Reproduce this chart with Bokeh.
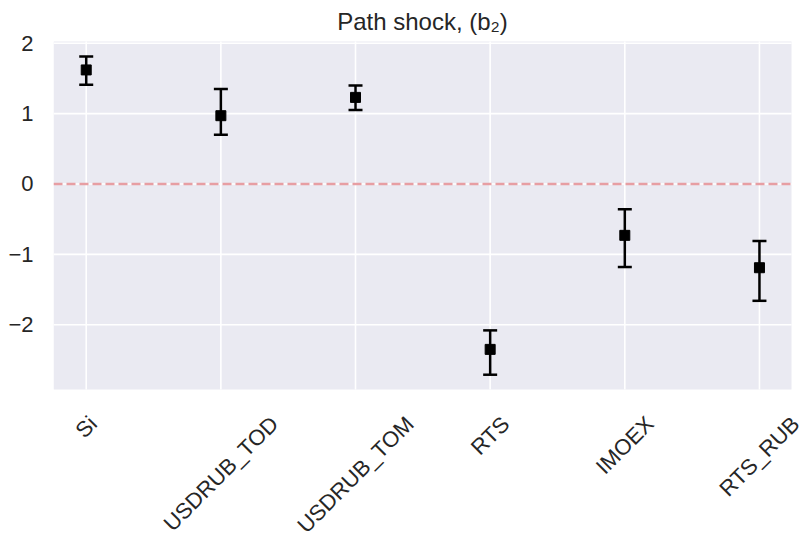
import math
from bokeh.plotting import figure
from bokeh.models import (ColumnDataSource, Whisker, TeeHead, FixedTicker,
                          Range1d, Label)
from bokeh.embed import file_html
from bokeh.resources import INLINE

# ---- data ----
names = ["Si", "USDRUB_TOD", "USDRUB_TOM", "RTS", "IMOEX", "RTS_RUB"]
estimate = [1.62, 0.97, 1.23, -2.35, -0.73, -1.19]
upper = [1.81, 1.35, 1.40, -2.08, -0.36, -0.81]
lower = [1.41, 0.70, 1.05, -2.71, -1.18, -1.66]
y_ticks = [-2, -1, 0, 1, 2]
y_tick_labels = {-2: "\u22122", -1: "\u22121", 0: "0", 1: "1", 2: "2"}
title_text = "Path shock, (b\u2082)"

# ---- layout ----
W, H = 800, 538
B_LEFT, B_TOP = 53, 41
AREA_W, AREA_H = 738, 348          # size of the grey plotting area in px
FONT = "Liberation Sans"
TXT = "#262626"
BG = "#EAEAF2"
TICK_PX = 22
TITLE_PX = 24
XMIN, XMAX = -0.243, 5.238         # grey area extent (data units)
YMIN, YMAX = -2.92, 2.024

# the frame spans the whole canvas right of the y labels, so that the title and
# the rotated category labels (drawn inside it) are not clipped away
px_x = AREA_W / (XMAX - XMIN)
px_y = AREA_H / (YMAX - YMIN)
frame_w = W - B_LEFT
X_END = XMIN + frame_w / px_x
Y_LOW = YMAX - (H - B_TOP) / px_y
Y_TOP = YMAX + B_TOP / px_y

xs = list(range(len(names)))
src = ColumnDataSource(dict(x=xs, est=estimate, upper=upper, lower=lower))

p = figure(width=W, height=H, output_backend="svg", toolbar_location=None,
           x_range=Range1d(XMIN, X_END), y_range=Range1d(Y_LOW, Y_TOP),
           min_border_left=B_LEFT, min_border_right=0,
           min_border_top=0, min_border_bottom=0,
           x_axis_location=None)

p.background_fill_color = "white"
p.border_fill_color = "white"
p.outline_line_color = None
p.xgrid.visible = False
p.ygrid.visible = False

# y axis
p.yaxis.ticker = FixedTicker(ticks=y_ticks)
p.yaxis.major_label_overrides = y_tick_labels
p.yaxis.axis_line_color = None
p.yaxis.major_tick_line_color = None
p.yaxis.minor_tick_line_color = None
p.yaxis.major_tick_out = 0
p.yaxis.major_tick_in = 0
p.yaxis.major_label_standoff = 20
p.yaxis.major_label_text_font = FONT
p.yaxis.major_label_text_font_size = f"{TICK_PX}px"
p.yaxis.major_label_text_color = TXT

# grey plotting area and its white grid
p.quad(left=[XMIN], right=[XMAX], bottom=[YMIN], top=[YMAX],
       fill_color=BG, line_color=None)
p.segment(x0=xs, x1=xs, y0=[YMIN] * len(xs), y1=[YMAX] * len(xs),
          line_color="white", line_width=1.6)
p.segment(x0=[XMIN] * len(y_ticks), x1=[XMAX] * len(y_ticks),
          y0=y_ticks, y1=y_ticks, line_color="white", line_width=1.6)

# zero line
p.segment(x0=[XMIN], x1=[XMAX], y0=[0], y1=[0], line_color="#E79EA3",
          line_width=2.5, line_dash="9 4")

# error bars
head_u = TeeHead(size=14, line_width=2.5, line_color="black")
head_l = TeeHead(size=14, line_width=2.5, line_color="black")
p.add_layout(Whisker(base="x", upper="upper", lower="lower", source=src,
                     line_width=2.5, line_color="black",
                     upper_head=head_u, lower_head=head_l, level="overlay"))
p.scatter(x="x", y="est", source=src, marker="square", size=10,
          fill_color="black", line_color="black")

# title, centred over the grey area
p.add_layout(Label(x=(XMIN + XMAX) / 2, y=YMAX + 20 / px_y, text=title_text,
                   text_align="center", text_baseline="alphabetic",
                   text_font=FONT, text_font_size=f"{TITLE_PX}px",
                   text_color=TXT))

# rotated category labels, centred below each tick (matplotlib style)
char_w = {"S": .667, "i": .222, "U": .722, "D": .722, "R": .722, "B": .667,
          "_": .556, "T": .611, "O": .778, "M": .833, "I": .278, "E": .667,
          "X": .667}
for xi, n in zip(xs, names):
    w = sum(char_w.get(c, .6) for c in n) * TICK_PX
    below = 25 + (w + 0.716 * TICK_PX) / (2 * math.sqrt(2))
    p.add_layout(Label(x=xi, y=YMIN - below / px_y, text=n,
                       angle=math.pi / 4, text_align="center",
                       text_baseline="middle", text_font=FONT,
                       text_font_size=f"{TICK_PX}px", text_color=TXT))

open("out.html", "w").write(file_html(p, INLINE))
